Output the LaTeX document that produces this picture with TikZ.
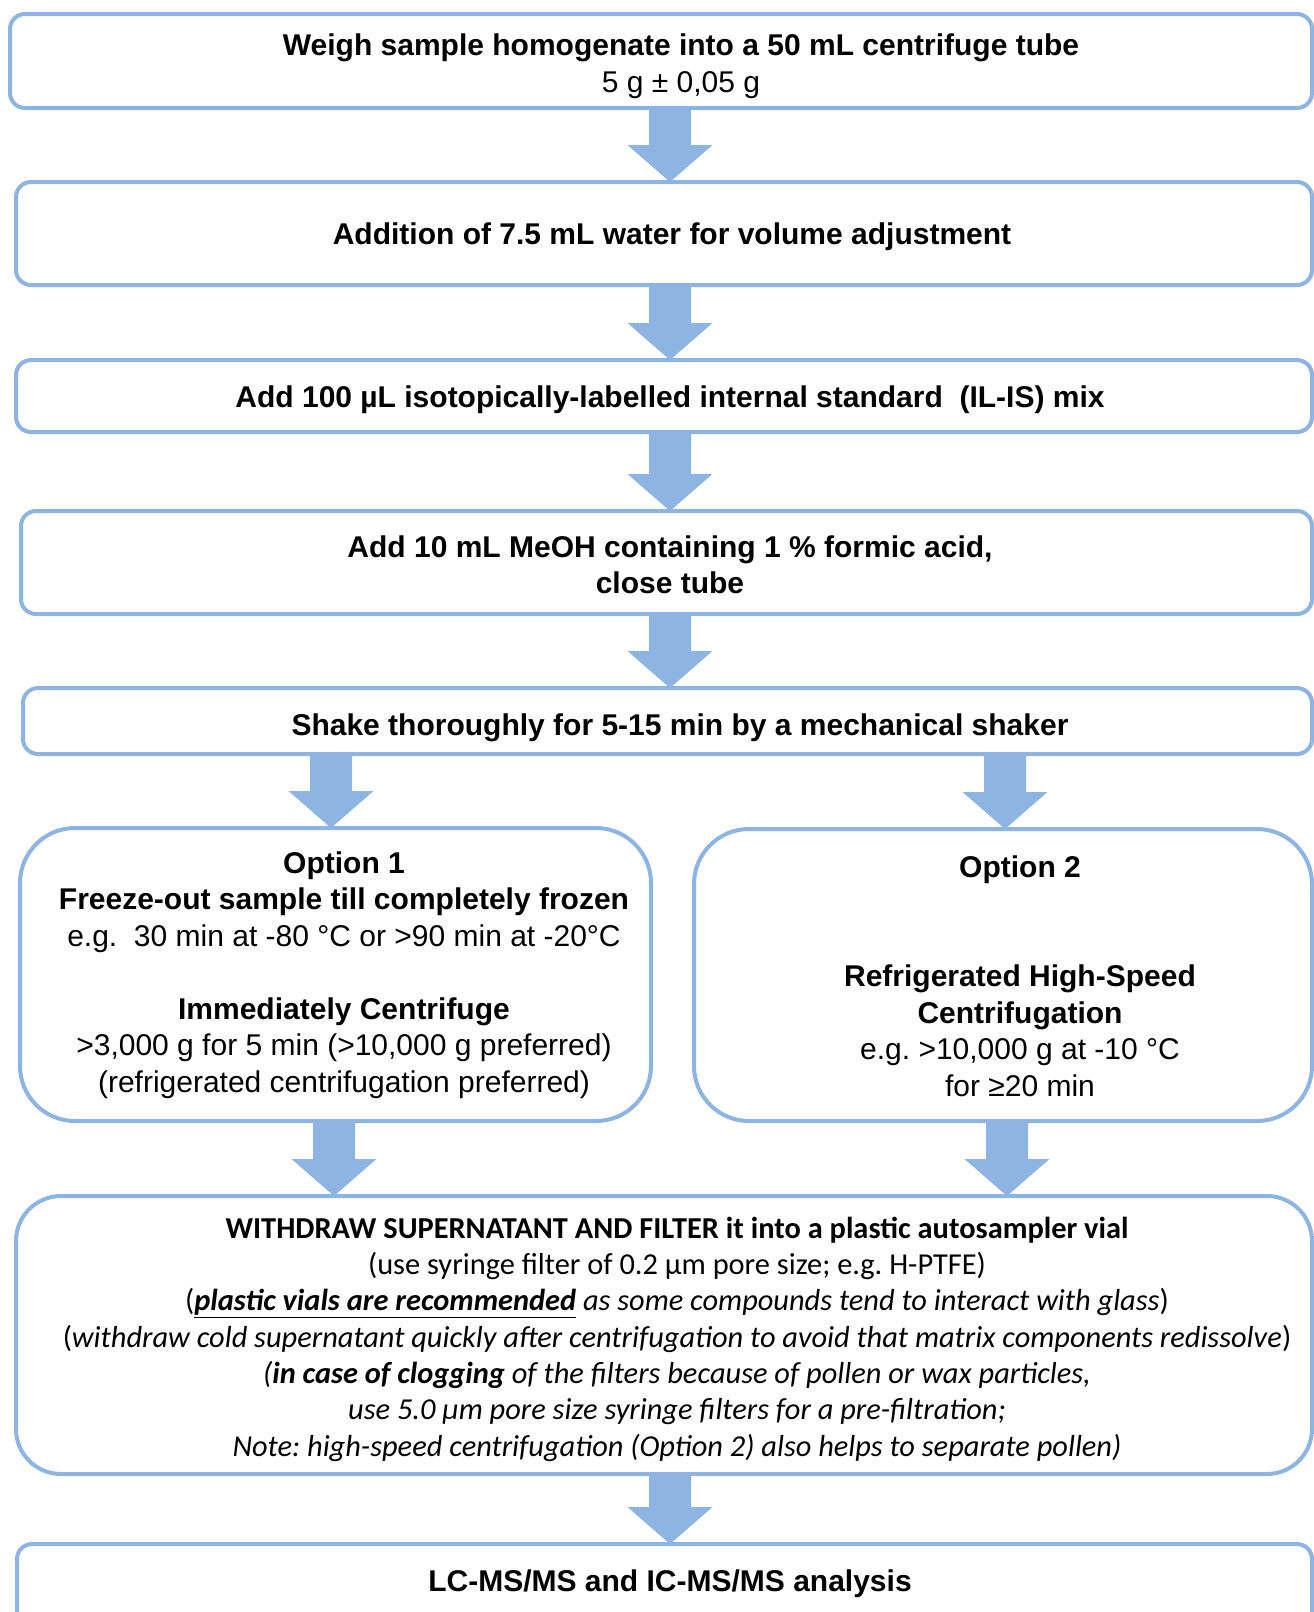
\documentclass[tikz,border=0pt]{standalone}
\usepackage{fontspec}
\setmainfont{Liberation Sans}
\newfontfamily\calfont{Carlito}
\usetikzlibrary{calc,backgrounds}
\frenchspacing
\definecolor{bordercol}{RGB}{142,180,227}
\tikzset{
  box/.style={draw=bordercol, line width=4pt, fill=white, rounded corners=#1,
    anchor=north west, inner sep=0pt, outer sep=0pt},
  box/.default=15pt,
  txt/.style={align=center, inner sep=0pt, font=\fontsize{30}{36.5}\selectfont},
  caltxt/.style={align=center, inner sep=0pt, font=\calfont\fontsize{30.4}{36.3}\selectfont},
  arrfill/.style={fill=bordercol}
}
\newcommand\flowarr[3]{%
  \fill[arrfill] ($(#1.south -| #3)+(-21,0)$) -- ($(#1.south -| #3)+(21,0)$)
    -- ($(#2.north -| #3)+(21,-37)$) -- ($(#2.north -| #3)+(42.5,-37)$)
    -- (#2.north -| #3) -- ($(#2.north -| #3)+(-42.5,-37)$)
    -- ($(#2.north -| #3)+(-21,-37)$) -- cycle;}
\begin{document}
\begin{tikzpicture}[x=1pt,y=-1pt]
\useasboundingbox (0,0) rectangle (1314,1612);
\clip (0,0) rectangle (1314,1612);
% boxes
\node[box, minimum width=1302pt, minimum height=94pt] (b1) at (10,14) {};
\node[box, minimum width=1296pt, minimum height=103pt] (b2) at (16,182) {};
\node[box, minimum width=1296pt, minimum height=72pt] (b3) at (16,360) {};
\node[box, minimum width=1291pt, minimum height=103pt] (b4) at (21,511) {};
\node[box, minimum width=1289pt, minimum height=66pt] (b5) at (23,688) {};
\node[box=55pt, minimum width=631pt, minimum height=293pt] (op1) at (20,828) {};
\node[box=55pt, minimum width=618pt, minimum height=292pt] (op2) at (694,829) {};
\node[box=45pt, minimum width=1296pt, minimum height=278pt] (wb) at (16,1196) {};
\node[box, minimum width=1295pt, minimum height=100pt] (lb) at (17,1544) {};
% texts
\node[txt] (t1) at (681,66) {\textbf{Weigh sample homogenate into a 50 mL centrifuge tube}\\5 g ± 0,05 g};
\node[txt] (t2) at (672,237) {\textbf{Addition of 7.5 mL water for volume adjustment}};
\node[txt] (t3) at (670,400) {\textbf{Add 100 µL isotopically-labelled internal standard\ \ (IL-IS) mix}};
\node[txt] (t4) at (670,565) {\textbf{Add 10 mL MeOH containing 1 \% formic acid,}\\\textbf{close tube}};
\node[txt] (t5) at (680,728) {\textbf{Shake thoroughly for 5-15 min by a mechanical shaker}};
\node[txt] (to1) at (344,975) {\textbf{Option 1}\\\textbf{Freeze-out sample till completely frozen}\\e.g.\ \ 30 min at -80 °C or >90 min at -20°C\\[36.5pt]\textbf{Immediately Centrifuge}\\>3,000 g for 5 min (>10,000 g preferred)\\(refrigerated centrifugation preferred)};
\node[txt] (to2) at (1020,976) {\textbf{Option 2}\\[73pt]\textbf{Refrigerated High-Speed}\\\textbf{Centrifugation}\\e.g. >10,000 g at -10 °C\\for ≥20 min};
\node[caltxt] (tw) at (677,1339) {\textbf{WITHDRAW SUPERNATANT AND FILTER it into a plastic autosampler vial}\\
(use syringe filter of 0.2 µm pore size; e.g. H-PTFE)\\
(\underline{\textbf{\textit{plastic vials are recommended}}} \textit{as some compounds tend to interact with glass})\\
(\textit{withdraw cold supernatant quickly after centrifugation to avoid that matrix components redissolve})\\
\textit{(\textbf{in case of clogging} of the filters because of pollen or wax particles,}\\
\textit{use 5.0 µm pore size syringe filters for a pre-filtration;}\\
\textit{Note: high-speed centrifugation (Option 2) also helps to separate pollen)}};
\node[txt] (tl) at (670,1584) {\textbf{LC-MS/MS and IC-MS/MS analysis}};
% arrow axes
\coordinate (cM) at (670,0);
\coordinate (cL1) at (331,0);
\coordinate (cR1) at (1005,0);
\coordinate (cL2) at (334,0);
\coordinate (cR2) at (1007,0);
\begin{pgfonlayer}{background}
\flowarr{b1}{b2}{cM}
\flowarr{b2}{b3}{cM}
\flowarr{b3}{b4}{cM}
\flowarr{b4}{b5}{cM}
\flowarr{b5}{op1}{cL1}
\flowarr{b5}{op2}{cR1}
\flowarr{op1}{wb}{cL2}
\flowarr{op2}{wb}{cR2}
\flowarr{wb}{lb}{cM}
\end{pgfonlayer}
\end{tikzpicture}
\end{document}
